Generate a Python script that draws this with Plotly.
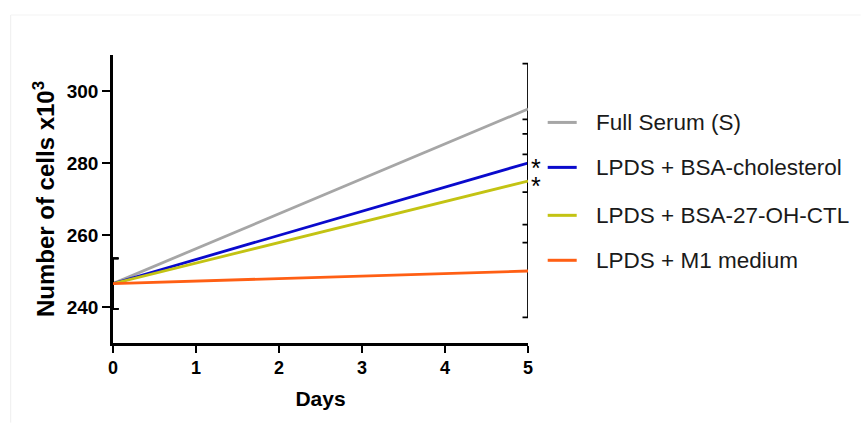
import plotly.graph_objects as go

# ---- data ----
days = [0, 5]
series_names = ["Full Serum (S)", "LPDS + BSA-cholesterol", "LPDS + BSA-27-OH-CTL", "LPDS + M1 medium"]
full_serum = [246.5, 295.0]
bsa_chol = [246.5, 280.0]
bsa_27oh = [246.5, 275.0]
m1_medium = [246.5, 250.0]
err_full = [7.0, 12.6]
err_chol = [7.0, 8.1]
err_27oh = [7.0, 17.1]
err_m1 = [7.0, 12.9]
y_ticks = [240, 260, 280, 300]
x_ticks = [0, 1, 2, 3, 4, 5]
signif_values = [280.0, 275.0]  # points marked with *

colors = ["#A6A6A6", "#0A0ACC", "#C3C313", "#FF5F14"]
values = [full_serum, bsa_chol, bsa_27oh, m1_medium]
errors = [err_full, err_chol, err_27oh, err_m1]

W, H = 861, 423
ML, MR, MT, MB = 113.3, W - 528.3, 55, H - 343.3
PW, PH = W - ML - MR, H - MT - MB


def px(x):
    return (x - ML) / PW


def py(y):
    return (H - MB - y) / PH


FONT = "Liberation Sans, Arial, sans-serif"

fig = go.Figure()
for name, vals, errs, col in zip(series_names, values, errors, colors):
    fig.add_trace(go.Scatter(
        x=days, y=vals, mode="lines", name=name,
        line=dict(color=col, width=2.8),
        error_y=dict(type="data", array=errs, visible=True, color="black", thickness=1.8, width=5.5),
        cliponaxis=False, showlegend=False,
    ))

shapes = []
annotations = []
# manual legend
legend_y = [122.5, 167.5, 215.5, 260.5]
for name, col, ly in zip(series_names, colors, legend_y):
    shapes.append(dict(type="line", xref="paper", yref="paper", x0=px(548), x1=px(577), y0=py(ly), y1=py(ly),
                       line=dict(color=col, width=3)))
    annotations.append(dict(xref="paper", yref="paper", x=px(594), y=py(ly), text=name, showarrow=False,
                            xanchor="left", yanchor="middle", font=dict(family=FONT, size=22.5, color="#1a1a1a")))

for v in signif_values:
    annotations.append(dict(x=days[-1], y=v, xref="x", yref="y", text="*", showarrow=False,
                            xanchor="left", yanchor="middle", xshift=1, yshift=-5,
                            font=dict(family=FONT, size=25, color="black")))

# faint image border
shapes.append(dict(type="line", xref="paper", yref="paper", x0=px(11), x1=px(11), y0=py(15), y1=py(H),
                   line=dict(color="#EEEEEE", width=1)))
shapes.append(dict(type="line", xref="paper", yref="paper", x0=px(11), x1=px(W), y0=py(15), y1=py(15),
                   line=dict(color="#F3F3F3", width=1)))

fig.update_layout(
    width=W, height=H,
    margin=dict(l=ML, r=MR, t=MT, b=MB, pad=0),
    paper_bgcolor="white", plot_bgcolor="white",
    shapes=shapes, annotations=annotations,
    showlegend=False,
    xaxis=dict(range=[0, 5], tickvals=x_ticks, ticks="outside", ticklen=7, tickwidth=2, tickcolor="black",
               showline=True, linecolor="black", linewidth=2.5, showgrid=False, zeroline=False,
               tickfont=dict(family=FONT, size=18, color="black", weight="bold"),
               title=dict(text="Days", font=dict(family=FONT, size=21, color="black", weight="bold"), standoff=14),
               automargin=False),
    yaxis=dict(range=[230, 310], tickvals=y_ticks, ticks="outside", ticklen=8, tickwidth=2, tickcolor="black",
               showline=True, linecolor="black", linewidth=2.5, showgrid=False, zeroline=False,
               tickfont=dict(family=FONT, size=19, color="black", weight="bold"),
               title=dict(text="Number of cells x10<sup>3</sup>",
                          font=dict(family=FONT, size=24, color="black", weight="bold"), standoff=6),
               automargin=False),
)

fig.write_html("out.html", config={"displayModeBar": False},
               post_script="document.body.style.margin='0';document.body.style.overflow='hidden';")
